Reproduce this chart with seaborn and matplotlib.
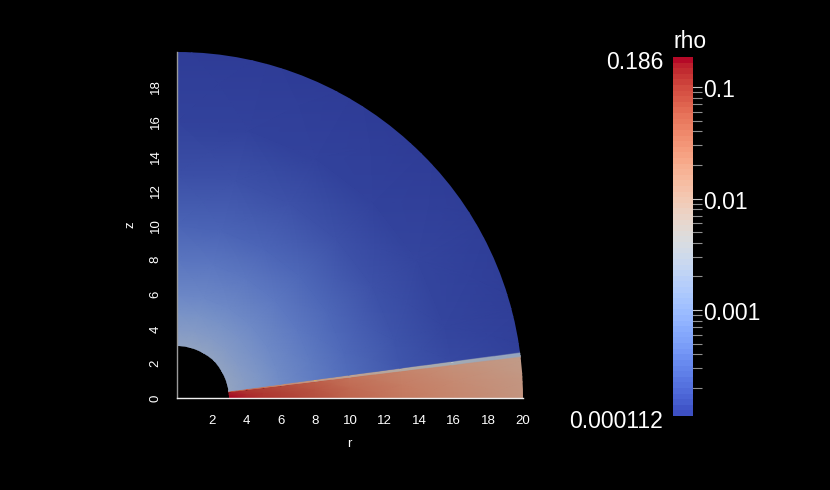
import numpy as np
import matplotlib
matplotlib.use('Agg')
import matplotlib.pyplot as plt
import seaborn as sns
from matplotlib.colors import LogNorm, ListedColormap
from matplotlib.patches import Wedge
from matplotlib.ticker import FixedLocator, MultipleLocator, NullFormatter
from matplotlib.transforms import ScaledTranslation

# rho, on a coarse r / theta table
radii = [2.5, 3, 4, 5, 6, 8, 10, 13, 16, 21]
disc_angles = [-1, 3.5, 6.8]
disc_rho = [
    [0.186, 0.186, 0.15, 0.12, 0.105, 0.075, 0.05, 0.032, 0.023, 0.014],
    [0.186, 0.17, 0.13, 0.105, 0.09, 0.065, 0.043, 0.028, 0.02, 0.012],
    [0.16, 0.145, 0.11, 0.09, 0.076, 0.055, 0.036, 0.024, 0.017, 0.0102],
]
band_angles = [7.0, 7.5]
band_rho = [
    [0.07, 0.06, 0.04, 0.03, 0.02, 0.012, 0.009, 0.006, 0.0035, 0.0019],
    [0.07, 0.06, 0.04, 0.03, 0.02, 0.012, 0.009, 0.006, 0.0035, 0.0019],
]
halo_angles = [7.7, 15, 30, 45, 60, 75, 90, 100]
halo_rho = [
    [0.0021, 0.002, 0.0014, 0.00105, 0.00078, 0.0005, 0.00033, 0.0002, 0.00015, 0.000122],
    [0.002, 0.002, 0.0014, 0.00105, 0.00076, 0.00048, 0.00031, 0.00019, 0.00014, 0.000118],
    [0.002, 0.0019, 0.0013, 0.00098, 0.00073, 0.00046, 0.0003, 0.00018, 0.00014, 0.000116],
    [0.002, 0.0019, 0.0013, 0.00096, 0.00072, 0.00045, 0.0003, 0.00018, 0.00013, 0.000114],
    [0.002, 0.0019, 0.0013, 0.00095, 0.0007, 0.00044, 0.00029, 0.00018, 0.00013, 0.000113],
    [0.002, 0.0019, 0.0013, 0.00095, 0.00069, 0.00043, 0.00028, 0.00018, 0.00013, 0.000112],
    [0.002, 0.0019, 0.0013, 0.00095, 0.00068, 0.00042, 0.00028, 0.00017, 0.00013, 0.000112],
    [0.002, 0.0019, 0.0013, 0.00095, 0.00068, 0.00042, 0.00028, 0.00017, 0.00013, 0.000112],
]
rho_min = 0.000112
rho_max = 0.186
r_inner = 3
r_outer = 20
x_ticks = [2, 4, 6, 8, 10, 12, 14, 16, 18, 20]
y_ticks = [0, 2, 4, 6, 8, 10, 12, 14, 16, 18]
bar_ticks = [0.001, 0.01, 0.1]
bar_minor = [0.0002, 0.0003, 0.0004, 0.0005, 0.0006, 0.0007, 0.0008, 0.0009,
             0.002, 0.003, 0.004, 0.005, 0.006, 0.007, 0.008, 0.009,
             0.02, 0.03, 0.04, 0.05, 0.06, 0.07, 0.08, 0.09]

sns.set_theme(style='dark', rc={'figure.facecolor': 'black', 'axes.facecolor': 'black',
                                'savefig.facecolor': 'black', 'axes.grid': False})
plt.rcParams['font.family'] = ['Liberation Sans', 'DejaVu Sans']

W, H = 830, 490
fig = plt.figure(figsize=(W / 100, H / 100), dpi=100)

def px_axes(left, top, right, bottom):
    return fig.add_axes([left / W, 1 - bottom / H, (right - left) / W, (bottom - top) / H])

cmap = sns.color_palette('coolwarm', as_cmap=True)
# the surface is darker than the colour bar (scene lighting)
lit = cmap(np.arange(256))
lit[:, :3] *= np.interp(np.linspace(0, 1, 256), [0, 0.5, 0.9, 1], [0.78, 0.78, 0.82, 0.92])[:, None]
surface_cmap = ListedColormap(lit)
norm = LogNorm(vmin=rho_min, vmax=rho_max)

# main field
ax = px_axes(177, 52.4, 523, 398)
ax.set_xlim(0, 20)
ax.set_ylim(0, 20)

angles = np.radians(disc_angles + band_angles + halo_angles)
rr, tt = np.meshgrid(radii, angles)
field = np.log10(np.vstack([disc_rho, band_rho, halo_rho]))
mesh = ax.pcolormesh(rr * np.cos(tt), rr * np.sin(tt), field, shading='gouraud',
                     cmap=surface_cmap, vmin=np.log10(rho_min), vmax=np.log10(rho_max),
                     rasterized=True)
clip = Wedge((0, 0), r_outer, 0, 90, width=r_outer - r_inner, transform=ax.transData)
mesh.set_clip_path(clip)

ax.xaxis.set_major_locator(FixedLocator(x_ticks))
ax.yaxis.set_major_locator(FixedLocator(y_ticks))
ax.xaxis.set_minor_locator(MultipleLocator(0.2))
ax.yaxis.set_minor_locator(MultipleLocator(0.2))
ax.tick_params(which='major', direction='in', length=5, width=0.9, color='#f0f0f0',
               labelcolor='white', labelsize=9.5)
ax.tick_params(which='minor', direction='in', length=2.5, width=0.9, color='#e0e0e0')
ax.tick_params(axis='x', which='major', pad=12)
ax.tick_params(axis='y', which='major', pad=11)
for lab in ax.get_yticklabels():
    lab.set_rotation(90)
    lab.set_va('center')
for name in ['top', 'right']:
    ax.spines[name].set_visible(False)
ax.spines['bottom'].set_color('#f0f0f0')
ax.spines['left'].set_color('#9a9a9a')
ax.spines['bottom'].set_linewidth(1.0)
ax.spines['left'].set_linewidth(1.0)
fig.text(349 / W, 1 - 444 / H, 'r', color='white', fontsize=9.5, ha='center', va='center')
fig.text(130 / W, 1 - 225 / H, 'z', color='white', fontsize=9.5, ha='center', va='center', rotation=90)

# colour bar, ticks stick out past its right edge
cax = px_axes(673, 57, 702, 416)
cax.set_yscale('log')
cax.set_ylim(rho_min, rho_max)
cax.set_xlim(673, 702)
levels = np.geomspace(rho_min, rho_max, 65)
cax.pcolormesh([673, 693], levels, np.sqrt(levels[:-1] * levels[1:]).reshape(-1, 1),
               cmap=cmap, norm=norm, rasterized=True)
for s in cax.spines.values():
    s.set_visible(False)
cax.xaxis.set_visible(False)
cax.yaxis.tick_right()
cax.yaxis.set_major_locator(FixedLocator(bar_ticks))
cax.yaxis.set_minor_locator(FixedLocator(bar_minor))
cax.yaxis.set_minor_formatter(NullFormatter())
cax.set_yticklabels(['0.001', '0.01', '0.1'])
cax.tick_params(which='major', direction='in', length=13, width=0.8, color='#c8c8c8',
                labelcolor='white', labelsize=16.5, pad=0.5, right=True, left=False)
cax.tick_params(which='minor', direction='in', length=8, width=0.8, color='#909090',
                right=True, left=False)
# labels sit just under their ticks
for lab in cax.get_yticklabels():
    lab.set_transform(lab.get_transform() + ScaledTranslation(0, -1 / 100, fig.dpi_scale_trans))

fig.text(663 / W, 1 - 62.5 / H, '0.186', color='white', fontsize=16.5, ha='right', va='center')
fig.text(663 / W, 1 - 421.5 / H, '0.000112', color='white', fontsize=16.5, ha='right', va='center')
fig.text(690 / W, 1 - 41.5 / H, 'rho', color='white', fontsize=16.5, ha='center', va='center')

plt.savefig('out.png', dpi=100, facecolor='black')
